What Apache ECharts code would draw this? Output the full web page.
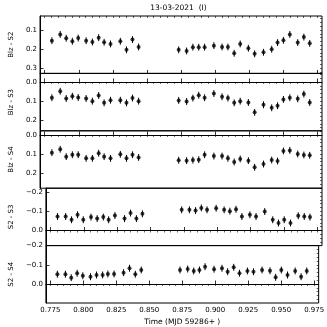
<!DOCTYPE html>
<html>
<head>
<meta charset="utf-8">
<script src="https://cdn.jsdelivr.net/npm/echarts@6/dist/echarts.min.js"></script>
<style>html,body{margin:0;padding:0;background:#fff;}#c{width:327px;height:327px;}</style>
</head>
<body>
<div id="c"></div>
<script>
// ---- data ----
const times = [0.7803, 0.7864, 0.7908, 0.7953, 0.7996, 0.8054, 0.8100, 0.8146, 0.8186, 0.8233, 0.8305, 0.8350, 0.8394, 0.8439,
  0.8733, 0.8791, 0.8837, 0.8880, 0.8923, 0.8991, 0.9051, 0.9094, 0.9140, 0.9184, 0.9244, 0.9290, 0.9355, 0.9415, 0.9458, 0.9501, 0.9548, 0.9606, 0.9651, 0.9694];
const blzS2 = [0.156, 0.123, 0.143, 0.159, 0.142, 0.156, 0.163, 0.140, 0.164, 0.173, 0.159, 0.204, 0.150, 0.189,
  0.204, 0.210, 0.190, 0.190, 0.190, 0.182, 0.189, 0.189, 0.222, 0.173, 0.196, 0.225, 0.217, 0.201, 0.166, 0.154, 0.123, 0.166, 0.137, 0.170];
const blzS3 = [0.083, 0.049, 0.087, 0.075, 0.082, 0.087, 0.101, 0.071, 0.110, 0.096, 0.096, 0.110, 0.085, 0.101,
  0.097, 0.103, 0.085, 0.070, 0.083, 0.061, 0.078, 0.085, 0.110, 0.101, 0.108, 0.160, 0.120, 0.136, 0.125, 0.092, 0.083, 0.089, 0.064, 0.108];
const blzS4 = [0.093, 0.075, 0.114, 0.104, 0.104, 0.123, 0.123, 0.096, 0.114, 0.123, 0.102, 0.123, 0.104, 0.118,
  0.133, 0.135, 0.132, 0.130, 0.104, 0.111, 0.111, 0.123, 0.142, 0.126, 0.135, 0.170, 0.153, 0.132, 0.137, 0.084, 0.081, 0.100, 0.105, 0.107];
const s2S3 = [-0.073, -0.073, -0.056, -0.082, -0.056, -0.070, -0.062, -0.070, -0.056, -0.078, -0.062, -0.091, -0.062, -0.087,
  -0.108, -0.108, -0.104, -0.118, -0.108, -0.116, -0.108, -0.101, -0.111, -0.073, -0.082, -0.073, -0.099, -0.056, -0.039, -0.056, -0.039, -0.077, -0.073, -0.070];
const s2S4 = [-0.051, -0.051, -0.033, -0.056, -0.043, -0.038, -0.047, -0.047, -0.052, -0.052, -0.059, -0.082, -0.051, -0.073,
  -0.073, -0.078, -0.068, -0.073, -0.090, -0.077, -0.082, -0.064, -0.087, -0.056, -0.068, -0.064, -0.073, -0.069, -0.035, -0.073, -0.047, -0.068, -0.038, -0.068];
const errs = [0.018, 0.018, 0.018, 0.018, 0.018, 0.018, 0.018, 0.018, 0.018, 0.018, 0.018, 0.018, 0.018, 0.018,
  0.018, 0.018, 0.018, 0.018, 0.018, 0.018, 0.018, 0.018, 0.018, 0.018, 0.018, 0.018, 0.018, 0.018, 0.018, 0.018, 0.018, 0.018, 0.018, 0.018];
const xTicks = [0.775, 0.800, 0.825, 0.850, 0.875, 0.900, 0.925, 0.950, 0.975];
const panelNames = ['Blz - S2', 'Blz - S3', 'Blz - S4', 'S2 - S3', 'S2 - S4'];
const panelValues = [blzS2, blzS3, blzS4, s2S3, s2S4];
const yTicks = [[0.1, 0.2, 0.3], [0.0, 0.1, 0.2], [0.0, 0.1, 0.2], [-0.2, -0.1, 0.0], [-0.2, -0.1, 0.0]];
const yRanges = [[0.026, 0.328], [-0.045, 0.257], [-0.022, 0.280], [-0.221, 0.079], [-0.200, 0.099]];
const titleText = '13-03-2021  (I)';
const xName = 'Time (MJD 59286+ )';

// ---- layout ----
const X_MIN = 0.7716, X_MAX = 0.9784;
const L = 35, R = 5, TOP = 16, PH = 57.4;
const FONT = 'DejaVu Sans';

function range(a, b, step) {
  const out = [];
  const n = Math.round((b - a) / step);
  for (let i = 0; i <= n; i++) out.push(+(a + i * step).toFixed(6));
  return out;
}
const xMinor = range(0.770, 0.980, 0.005).filter(v => v >= X_MIN && v <= X_MAX);

const grids = [], xAxes = [], yAxes = [], series = [];
const fmtY = v => {
  const s = Math.abs(v).toFixed(1);
  return (v < -1e-9 ? '\u2212' : '') + s;
};

panelNames.forEach((name, i) => {
  grids.push({left: L, right: R, top: TOP + i * PH, height: PH, show: true, borderColor: '#000', borderWidth: 1, backgroundColor: 'transparent'});
  const last = i === panelNames.length - 1;
  xAxes.push({
    gridIndex: i, type: 'value', min: X_MIN, max: X_MAX,
    axisLine: {show: true, lineStyle: {color: '#000', width: 1}},
    axisTick: {show: true, inside: true, length: 3.5, customValues: xTicks, lineStyle: {color: '#000', width: 0.8}},
    axisLabel: {show: last, customValues: xTicks, formatter: v => v.toFixed(3), fontSize: 7, color: '#000', fontFamily: FONT, margin: 4},
    splitLine: {show: false},
    name: last ? xName : '', nameLocation: 'middle', nameGap: 15,
    nameTextStyle: {fontSize: 7.5, color: '#000', fontFamily: FONT}
  });
  xAxes.push({
    gridIndex: i, type: 'value', min: X_MIN, max: X_MAX,
    axisLine: {show: false},
    axisTick: {show: true, inside: true, length: 2, customValues: xMinor, lineStyle: {color: '#000', width: 0.6}},
    axisLabel: {show: false}, splitLine: {show: false}
  });
  const [ymin, ymax] = yRanges[i];
  const yMinor = range(-0.4, 0.4, 0.02).filter(v => v >= ymin && v <= ymax);
  yAxes.push({
    gridIndex: i, type: 'value', inverse: true, min: ymin, max: ymax,
    axisLine: {show: true, lineStyle: {color: '#000', width: 1}},
    axisTick: {show: true, inside: true, length: 3.5, customValues: yTicks[i], lineStyle: {color: '#000', width: 0.8}},
    axisLabel: {show: true, customValues: yTicks[i], formatter: fmtY, fontSize: 7, color: '#000', fontFamily: FONT, margin: 3},
    splitLine: {show: false},
    name: name, nameLocation: 'middle', nameGap: 19, nameRotate: 90,
    nameTextStyle: {fontSize: 7, color: '#000', fontFamily: FONT}
  });
  yAxes.push({
    gridIndex: i, type: 'value', inverse: true, min: ymin, max: ymax,
    axisLine: {show: false},
    axisTick: {show: true, inside: true, length: 2, customValues: yMinor, lineStyle: {color: '#000', width: 0.6}},
    axisLabel: {show: false}, splitLine: {show: false}
  });
  const vals = panelValues[i];
  const pts = times.map((t, k) => [t, vals[k], errs[k]]);
  series.push({
    type: 'custom', xAxisIndex: 2 * i, yAxisIndex: 2 * i, data: pts, silent: true,
    encode: {x: 0, y: 1},
    renderItem: (params, api) => {
      const x = api.value(0), y = api.value(1), e = api.value(2);
      const p1 = api.coord([x, y - e]);
      const p2 = api.coord([x, y + e]);
      return {type: 'line', shape: {x1: p1[0], y1: p1[1], x2: p2[0], y2: p2[1]}, style: {stroke: '#000', lineWidth: 1}};
    }
  });
  series.push({
    type: 'scatter', xAxisIndex: 2 * i, yAxisIndex: 2 * i, data: pts.map(p => [p[0], p[1]]),
    symbol: 'circle', symbolSize: 4, itemStyle: {color: '#000'}, silent: true
  });
});

const chart = echarts.init(document.getElementById('c'), null, {renderer: 'canvas'});
chart.setOption({
  animation: false,
  backgroundColor: '#fff',
  grid: grids, xAxis: xAxes, yAxis: yAxes, series: series,
  graphic: [{
    type: 'text', x: L + (327 - L - R) / 2, y: 8,
    style: {text: titleText, fontSize: 7.5, fill: '#000', fontFamily: FONT, align: 'center', verticalAlign: 'middle'}
  }]
});
</script>
</body>
</html>
